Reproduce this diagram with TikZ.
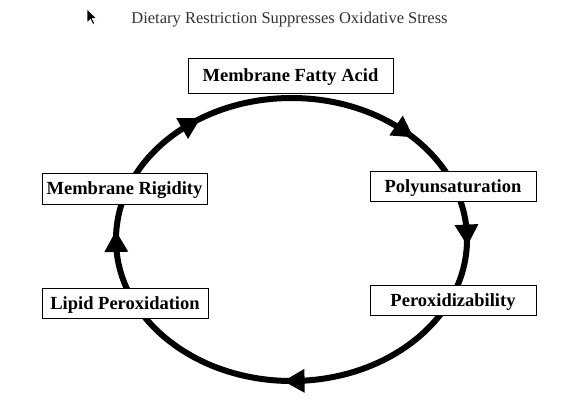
\documentclass[tikz,border=0pt]{standalone}
\usepackage{fontspec}
\setmainfont{Liberation Serif}
\begin{document}
\begin{tikzpicture}[x=1pt,y=1pt,
  stage/.style={draw=black,line width=0.8pt,fill=white,minimum height=30pt,inner sep=0pt,
    text height=12pt,text depth=0pt,
    font=\fontsize{18.5}{20}\selectfont\bfseries},
  cycleline/.style={line width=6pt,black}]
\useasboundingbox (0,0) rectangle (570,-405);
\fill[white] (0,0) rectangle (570,-405);
% title
\node[text=black!80,font=\fontsize{16.5}{18}\selectfont] (title) at (289.5,-20) {Dietary Restriction Suppresses Oxidative Stress};
% cursor
\filldraw[fill=black,draw=white,line width=0.5pt,shift={(87,-9)},scale=0.85]
  (0,0) -- (0,-16) -- (4,-12) -- (7,-18) -- (9,-17) -- (6,-11) -- (11,-11) -- cycle;
% cycle
\draw[cycleline] (291.5,-239.5) ellipse [x radius=175.5, y radius=141.5];
\foreach \t in {125,50,2,271,181}{
  \pgfmathsetmacro{\px}{291.5+175.5*cos(\t)}
  \pgfmathsetmacro{\py}{-239.5+141.5*sin(\t)}
  \pgfmathsetmacro{\ang}{atan2(-141.5*cos(\t),175.5*sin(\t))}
  \fill[shift={(\px,\py)},rotate=\ang] (11,0) -- (-10,12) -- (-10,-12) -- cycle;
}
% stages
\node[stage,minimum width=205pt,minimum height=35pt] (mfa) at (290.5,-75.5) {Membrane Fatty Acid};
\node[stage,minimum width=166pt] (pu) at (453,-186) {Polyunsaturation};
\node[stage,minimum width=166pt] (px) at (453,-300) {Peroxidizability};
\node[stage,minimum width=166pt] (lp) at (125,-303) {Lipid Peroxidation};
\node[stage,minimum width=165pt,minimum height=31pt] (mr) at (124.5,-188.5) {Membrane Rigidity};
\end{tikzpicture}
\end{document}
